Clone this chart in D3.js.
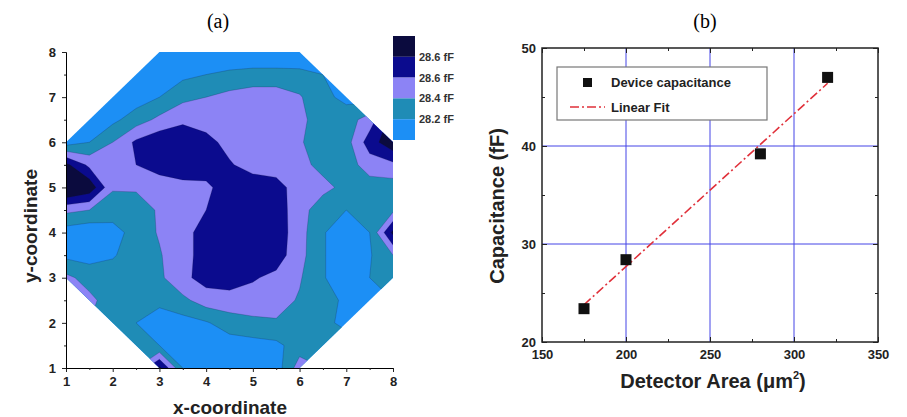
<!DOCTYPE html>
<html>
<head>
<meta charset="utf-8">
<script src="https://cdnjs.cloudflare.com/ajax/libs/d3/7.8.5/d3.min.js"></script>
<style>
    body { margin: 0; background: #fff; }
    svg text { font-family: "Liberation Sans", Arial, sans-serif; }
</style>
</head>
<body>
<svg id="chart" width="907" height="417"></svg>
<script>
// ---- panel (a): capacitance map, sampled every 0.5 unit ----
var mapX = [1, 1.5, 2, 2.5, 3, 3.5, 4, 4.5, 5, 5.5, 6, 6.5, 7, 7.5, 8];
var mapY = [8, 7.5, 7, 6.5, 6, 5.5, 5, 4.5, 4, 3.5, 3, 2.5, 2, 1.5, 1];
// one row per mapY value (top to bottom), one column per mapX value, fF
var mapRows = [
    [28.0, 28.0, 28.0, 28.0, 28.0, 28.0, 28.0, 28.0, 28.0, 28.0, 28.0, 28.0, 28.0, 28.0, 28.0],
    [28.0, 28.0, 28.0, 28.0, 28.05, 28.15, 28.2, 28.25, 28.28, 28.28, 28.27, 28.2, 28.1, 28.1, 28.1],
    [28.0, 28.0, 28.05, 28.1, 28.2, 28.35, 28.4, 28.46, 28.5, 28.5, 28.42, 28.25, 28.15, 28.1, 28.1],
    [28.0, 28.05, 28.15, 28.3, 28.45, 28.55, 28.52, 28.5, 28.55, 28.5, 28.45, 28.3, 28.3, 28.5, 28.9],
    [28.1, 28.2, 28.4, 28.64, 28.75, 28.78, 28.66, 28.54, 28.55, 28.5, 28.42, 28.3, 28.32, 28.7, 28.95],
    [28.85, 28.55, 28.5, 28.6, 28.68, 28.72, 28.7, 28.62, 28.52, 28.5, 28.45, 28.35, 28.3, 28.5, 28.55],
    [29.1, 28.95, 28.42, 28.42, 28.5, 28.54, 28.56, 28.7, 28.72, 28.68, 28.5, 28.45, 28.35, 28.3, 28.3],
    [28.45, 28.4, 28.3, 28.32, 28.42, 28.5, 28.6, 28.72, 28.75, 28.72, 28.47, 28.3, 28.2, 28.3, 28.35],
    [28.1, 28.05, 28.12, 28.28, 28.42, 28.55, 28.66, 28.75, 28.75, 28.72, 28.48, 28.22, 28.05, 28.2, 28.85],
    [28.15, 28.12, 28.18, 28.3, 28.38, 28.55, 28.66, 28.75, 28.75, 28.7, 28.47, 28.22, 28.05, 28.18, 28.4],
    [28.45, 28.32, 28.3, 28.3, 28.36, 28.55, 28.68, 28.7, 28.62, 28.55, 28.42, 28.22, 28.05, 28.2, 28.3],
    [28.5, 28.45, 28.3, 28.22, 28.25, 28.35, 28.5, 28.52, 28.52, 28.48, 28.38, 28.3, 28.15, 28.15, 28.2],
    [28.5, 28.4, 28.3, 28.2, 28.1, 28.12, 28.18, 28.3, 28.35, 28.38, 28.3, 28.25, 28.15, 28.2, 28.2],
    [28.4, 28.4, 28.35, 28.3, 28.2, 28.05, 28.05, 28.1, 28.12, 28.15, 28.3, 28.3, 28.3, 28.3, 28.3],
    [28.4, 28.4, 28.4, 28.4, 28.85, 28.2, 28.05, 28.05, 28.05, 28.1, 28.5, 28.4, 28.4, 28.4, 28.4]
];
var levels = [28.2, 28.4, 28.6, 28.8];
var levelColors = ["#1c8ff5", "#1f8cb6", "#8c83f5", "#0b0b8e", "#0b0b3e"];
var levelLabels = ["28.6 fF", "28.6 fF", "28.4 fF", "28.2 fF"];
var waferOutline = [[3, 8], [6, 8], [8, 6], [8, 3], [6, 1], [3, 1], [1, 3], [1, 6]];
var mapTicks = [1, 2, 3, 4, 5, 6, 7, 8];
var mapMinorTicks = [1.5, 2.5, 3.5, 4.5, 5.5, 6.5, 7.5];

// ---- panel (b): capacitance vs area ----
var area = [175, 200, 280, 320];
var capacitance = [23.4, 28.4, 39.2, 47.0];
var fitArea = [175, 320];
var fitCapacitance = [23.8, 46.4];
var areaTicks = [150, 200, 250, 300, 350];
var areaMinorTicks = [175, 225, 275, 325];
var capTicks = [20, 30, 40, 50];
var capMinorTicks = [25, 35, 45];
var areaGrid = [200, 250, 300];
var capGrid = [30, 40];

var svg = d3.select("#chart");

// ================= (a) =================
var xa = d3.scaleLinear().domain([1, 8]).range([66, 393]);
var ya = d3.scaleLinear().domain([1, 8]).range([368, 52]);

// contour grid coordinate i maps to centre i + 0.5
var gx = d3.scaleLinear().domain([0.5, mapX.length - 0.5]).range([xa(mapX[0]), xa(mapX[mapX.length - 1])]);
var gy = d3.scaleLinear().domain([0.5, mapY.length - 0.5]).range([ya(mapY[0]), ya(mapY[mapY.length - 1])]);
var gridPath = d3.geoPath(d3.geoTransform({
    point: function (x, y) { this.stream.point(gx(x), gy(y)); }
}));

svg.append("clipPath").attr("id", "wafer").append("polygon")
    .attr("points", waferOutline.map(function (p) { return xa(p[0]) + "," + ya(p[1]); }).join(" "));

var mapG = svg.append("g").attr("clip-path", "url(#wafer)");
mapG.append("rect").attr("x", xa(1)).attr("y", ya(8))
    .attr("width", xa(8) - xa(1)).attr("height", ya(1) - ya(8))
    .style("fill", levelColors[0]);

var bands = d3.contours().size([mapX.length, mapY.length]).thresholds(levels)(mapRows.flat());
mapG.selectAll("path.band").data(bands).enter().append("path")
    .attr("class", "band")
    .attr("d", gridPath)
    .style("fill", function (d, i) { return levelColors[i + 1]; })
    .style("stroke", "#1a1a40").style("stroke-opacity", 0.35).style("stroke-width", 0.6);

// axes of (a)
svg.append("g").attr("transform", "translate(0," + ya(1) + ")")
    .call(d3.axisBottom(xa).tickValues(mapTicks).tickSize(4).tickPadding(5).tickFormat(d3.format("d")));
svg.append("g").attr("transform", "translate(0," + ya(1) + ")")
    .call(d3.axisBottom(xa).tickValues(mapMinorTicks).tickSize(2).tickFormat(""))
    .select(".domain").remove();
svg.append("g").attr("transform", "translate(" + xa(1) + ",0)")
    .call(d3.axisLeft(ya).tickValues(mapTicks).tickSize(4).tickPadding(6).tickFormat(d3.format("d")));
svg.append("g").attr("transform", "translate(" + xa(1) + ",0)")
    .call(d3.axisLeft(ya).tickValues(mapMinorTicks).tickSize(2).tickFormat(""))
    .select(".domain").remove();

svg.append("text").attr("x", 218).attr("y", 28).attr("text-anchor", "middle")
    .style("font-family", "'Liberation Serif', serif").style("font-size", "20px").text("(a)");
svg.append("text").attr("x", 230).attr("y", 414).attr("text-anchor", "middle")
    .style("font-size", "19px").style("font-weight", "bold").style("fill", "#222").text("x-coordinate");
svg.append("text").attr("transform", "translate(37,226) rotate(-90)").attr("text-anchor", "middle")
    .style("font-size", "19px").style("font-weight", "bold").style("fill", "#222").text("y-coordinate");

// colour bar
var barColors = levelColors.slice().reverse();
var barY = d3.scaleLinear().domain([0, barColors.length]).range([36, 140]);
svg.selectAll("rect.bar").data(barColors).enter().append("rect")
    .attr("class", "bar")
    .attr("x", 393).attr("width", 22)
    .attr("y", function (d, i) { return barY(i); })
    .attr("height", barY(1) - barY(0))
    .style("fill", function (d) { return d; });
svg.selectAll("text.bar").data(levelLabels).enter().append("text")
    .attr("class", "bar")
    .attr("x", 419)
    .attr("y", function (d, i) { return barY(i + 1) + 4; })
    .style("font-size", "11px").style("font-weight", "bold").style("fill", "#333")
    .text(function (d) { return d; });

// ================= (b) =================
var xb = d3.scaleLinear().domain([150, 350]).range([542, 878]);
var yb = d3.scaleLinear().domain([20, 50]).range([342, 48]);

var gridG = svg.append("g");
gridG.selectAll("line.gx").data(areaGrid).enter().append("line")
    .attr("x1", function (d) { return xb(d); }).attr("x2", function (d) { return xb(d); })
    .attr("y1", yb(20)).attr("y2", yb(50))
    .style("stroke", "#4444e6").style("stroke-width", 1);
gridG.selectAll("line.gy").data(capGrid).enter().append("line")
    .attr("y1", function (d) { return yb(d); }).attr("y2", function (d) { return yb(d); })
    .attr("x1", xb(150)).attr("x2", xb(350))
    .style("stroke", "#4444e6").style("stroke-width", 1);

function frameAxis(axis, scale, major, minor, where, labels) {
    var g = svg.append("g").attr("transform", where);
    g.call(axis(scale).tickValues(major).tickSize(-5).tickPadding(labels ? 8 : 0)
        .tickFormat(labels ? d3.format("d") : ""));
    g.select(".domain").remove();
    var m = svg.append("g").attr("transform", where);
    m.call(axis(scale).tickValues(minor).tickSize(-3).tickFormat(""));
    m.select(".domain").remove();
    return g;
}
frameAxis(d3.axisBottom, xb, areaTicks, areaMinorTicks, "translate(0," + yb(20) + ")", true);
frameAxis(d3.axisTop, xb, areaTicks, areaMinorTicks, "translate(0," + yb(50) + ")", false);
var leftB = frameAxis(d3.axisLeft, yb, capTicks, capMinorTicks, "translate(" + xb(150) + ",0)", true);
frameAxis(d3.axisRight, yb, capTicks, capMinorTicks, "translate(" + xb(350) + ",0)", false);
leftB.selectAll(".tick text").attr("x", -6);
svg.selectAll(".tick text").style("font-size", "13px").style("font-weight", "bold").style("fill", "#222");
svg.selectAll(".tick line").style("stroke", "#222");

svg.append("rect").attr("x", xb(150)).attr("y", yb(50))
    .attr("width", xb(350) - xb(150)).attr("height", yb(20) - yb(50))
    .style("fill", "none").style("stroke", "#222").style("stroke-width", 1.5);

// linear fit
var fitLine = d3.line().x(function (d) { return xb(d[0]); }).y(function (d) { return yb(d[1]); });
svg.append("path").datum(d3.zip(fitArea, fitCapacitance))
    .attr("d", fitLine)
    .style("fill", "none").style("stroke", "#e0303a").style("stroke-width", 1.6)
    .style("stroke-dasharray", "9,3,2,3");

// measured points
svg.selectAll("rect.pt").data(d3.zip(area, capacitance)).enter().append("rect")
    .attr("class", "pt")
    .attr("x", function (d) { return xb(d[0]) - 5.5; })
    .attr("y", function (d) { return yb(d[1]) - 5.5; })
    .attr("width", 11).attr("height", 11)
    .style("fill", "#111");

// legend
var leg = svg.append("g").attr("transform", "translate(557,67)");
leg.append("rect").attr("width", 210).attr("height", 53)
    .style("fill", "#fff").style("stroke", "#777").style("stroke-width", 1.2);
leg.append("rect").attr("x", 26).attr("y", 11).attr("width", 9).attr("height", 9).style("fill", "#111");
leg.append("text").attr("x", 54).attr("y", 20).style("font-size", "13px").style("font-weight", "bold")
    .style("fill", "#222").text("Device capacitance");
leg.append("line").attr("x1", 13).attr("x2", 48).attr("y1", 40).attr("y2", 40)
    .style("stroke", "#e0303a").style("stroke-width", 1.6).style("stroke-dasharray", "9,3,2,3");
leg.append("text").attr("x", 54).attr("y", 45).style("font-size", "13px").style("font-weight", "bold")
    .style("fill", "#222").text("Linear Fit");

svg.append("text").attr("x", 705).attr("y", 28).attr("text-anchor", "middle")
    .style("font-family", "'Liberation Serif', serif").style("font-size", "20px").text("(b)");
var xt = svg.append("text").attr("x", 713).attr("y", 388).attr("text-anchor", "middle")
    .style("font-size", "20px").style("font-weight", "bold").style("fill", "#222");
xt.append("tspan").text("Detector Area (\u03bcm");
xt.append("tspan").attr("dy", -9).style("font-size", "11px").text("2");
xt.append("tspan").attr("dy", 9).text(")");
svg.append("text").attr("transform", "translate(504,206) rotate(-90)").attr("text-anchor", "middle")
    .style("font-size", "20px").style("font-weight", "bold").style("fill", "#222").text("Capacitance (fF)");
</script>
</body>
</html>
